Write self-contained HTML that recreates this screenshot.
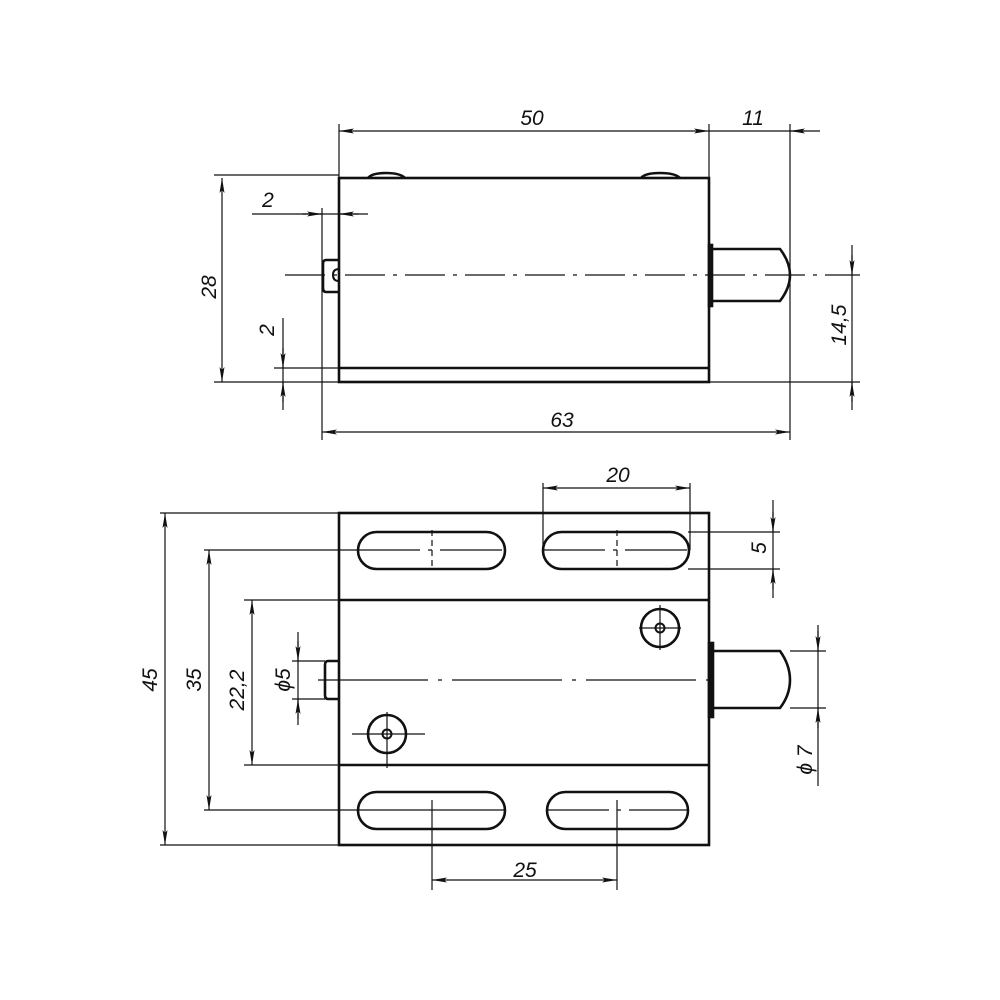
<!DOCTYPE html>
<html><head><meta charset="utf-8"><style>
html,body{margin:0;padding:0;background:#fff;}
svg{display:block}
text{font-family:"Liberation Sans",sans-serif;font-style:italic;font-size:21px;fill:#111;}
</style></head><body>
<svg width="1000" height="1000" viewBox="0 0 1000 1000" xmlns="http://www.w3.org/2000/svg">
<defs>
<marker id="a" markerWidth="16" markerHeight="6" refX="15" refY="3" orient="auto-start-reverse" markerUnits="userSpaceOnUse">
<path d="M0,0.5 L15,3 L0,5.5 L3,3 Z" fill="#111"/>
</marker>
</defs>
<g stroke="#111" fill="none" stroke-width="1.2">
<!-- ===== TOP VIEW ===== -->
<g stroke-width="2.6">
<rect x="339" y="178" width="370" height="204"/>
<line x1="339" y1="368" x2="709" y2="368"/>
<path d="M368,178 Q372,173 386,173 Q400,173 405,178"/>
<path d="M641,178 Q645,173 660,173 Q675,173 680,178"/>
<path d="M710,249 L780,249 Q790,262 790,275 Q790,288 780,301 L710,301"/>
<rect x="709" y="245" width="3" height="61" fill="#111"/>
<path d="M339,260 L326,260 Q323,260 323,264 L323,288 Q323,292 326,292 L339,292"/>
<path d="M339,269 Q333,269 333,275 Q333,281 339,281" stroke-width="2"/>
</g>
<line x1="285" y1="275" x2="860" y2="275" stroke-dasharray="40,8,4,8"/>
<!-- extension lines -->
<line x1="339" y1="124" x2="339" y2="178"/>
<line x1="709" y1="124" x2="709" y2="245"/>
<line x1="790" y1="124" x2="790" y2="440"/>
<line x1="322" y1="208" x2="322" y2="440"/>
<line x1="214" y1="175" x2="339" y2="175"/>
<line x1="214" y1="382" x2="339" y2="382"/>
<line x1="274" y1="368" x2="339" y2="368"/>
<line x1="709" y1="382" x2="860" y2="382"/>
<!-- dims -->
<line x1="339" y1="131" x2="709" y2="131" marker-start="url(#a)" marker-end="url(#a)"/>
<line x1="709" y1="131" x2="820" y2="131"/>
<line x1="805" y1="131" x2="790" y2="131" marker-end="url(#a)"/>
<line x1="222" y1="178" x2="222" y2="382" marker-start="url(#a)" marker-end="url(#a)"/>
<line x1="252" y1="214" x2="368" y2="214"/>
<line x1="302" y1="214" x2="322" y2="214" marker-end="url(#a)"/>
<line x1="359" y1="214" x2="339" y2="214" marker-end="url(#a)"/>
<line x1="283" y1="318" x2="283" y2="410"/>
<line x1="283" y1="348" x2="283" y2="368" marker-end="url(#a)"/>
<line x1="283" y1="402" x2="283" y2="382" marker-end="url(#a)"/>
<line x1="852" y1="245" x2="852" y2="410"/>
<line x1="852" y1="255" x2="852" y2="275" marker-end="url(#a)"/>
<line x1="852" y1="402" x2="852" y2="382" marker-end="url(#a)"/>
<line x1="322" y1="432" x2="790" y2="432" marker-start="url(#a)" marker-end="url(#a)"/>

<!-- ===== BOTTOM VIEW ===== -->
<g stroke-width="2.6">
<rect x="339" y="513" width="370" height="332"/>
<line x1="339" y1="600" x2="709" y2="600"/>
<line x1="339" y1="765" x2="709" y2="765"/>
<rect x="358" y="532" width="147" height="37" rx="18.5"/>
<rect x="543" y="532" width="146" height="37" rx="18.5"/>
<rect x="358" y="792" width="147" height="37" rx="18.5"/>
<rect x="547" y="792" width="141" height="37" rx="18.5"/>
<circle cx="660" cy="628" r="19"/>
<circle cx="660" cy="628" r="4.5" stroke-width="2"/>
<circle cx="387" cy="734" r="19"/>
<circle cx="387" cy="734" r="4.5" stroke-width="2"/>
<path d="M710,651 L780,651 Q790,665 790,680 Q790,695 780,708 L710,708"/>
<rect x="709" y="643" width="4" height="74" fill="#111"/>
<path d="M339,661 L328,661 Q325,661 325,665 L325,695 Q325,699 328,699 L339,699"/>
</g>
<!-- slot centerlines -->
<line x1="358" y1="550" x2="505" y2="550" stroke-dasharray="62,8,4,8"/>
<line x1="543" y1="550" x2="689" y2="550" stroke-dasharray="62,8,4,8"/>
<line x1="204" y1="550" x2="358" y2="550"/>
<line x1="204" y1="810" x2="505" y2="810"/>
<line x1="547" y1="810" x2="688" y2="810" stroke-dasharray="62,8,4,8"/>
<line x1="432" y1="530" x2="432" y2="570" stroke-dasharray="6,4"/>
<line x1="617" y1="530" x2="617" y2="570" stroke-dasharray="6,4"/>
<line x1="432" y1="800" x2="432" y2="890"/>
<line x1="617" y1="800" x2="617" y2="890"/>
<line x1="639" y1="628" x2="681" y2="628"/><line x1="660" y1="605" x2="660" y2="650"/>
<line x1="352" y1="734" x2="425" y2="734"/><line x1="387" y1="712" x2="387" y2="768"/>
<line x1="318" y1="680" x2="708" y2="680" stroke-dasharray="110,10,4,10"/>
<!-- ext lines -->
<line x1="543" y1="483" x2="543" y2="550"/>
<line x1="690" y1="483" x2="690" y2="550"/>
<line x1="160" y1="513" x2="339" y2="513"/>
<line x1="160" y1="845" x2="339" y2="845"/>
<line x1="244" y1="600" x2="339" y2="600"/>
<line x1="244" y1="765" x2="339" y2="765"/>
<line x1="292" y1="661" x2="325" y2="661"/>
<line x1="292" y1="699" x2="325" y2="699"/>
<line x1="688" y1="532" x2="780" y2="532"/>
<line x1="688" y1="569" x2="780" y2="569"/>
<line x1="790" y1="651" x2="826" y2="651"/>
<line x1="790" y1="708" x2="826" y2="708"/>
<!-- dims -->
<line x1="543" y1="488" x2="690" y2="488" marker-start="url(#a)" marker-end="url(#a)"/>
<line x1="773" y1="500" x2="773" y2="598"/>
<line x1="773" y1="512" x2="773" y2="532" marker-end="url(#a)"/>
<line x1="773" y1="589" x2="773" y2="569" marker-end="url(#a)"/>
<line x1="165" y1="513" x2="165" y2="845" marker-start="url(#a)" marker-end="url(#a)"/>
<line x1="209" y1="550" x2="209" y2="810" marker-start="url(#a)" marker-end="url(#a)"/>
<line x1="252" y1="600" x2="252" y2="765" marker-start="url(#a)" marker-end="url(#a)"/>
<line x1="298" y1="632" x2="298" y2="725"/>
<line x1="298" y1="641" x2="298" y2="661" marker-end="url(#a)"/>
<line x1="298" y1="719" x2="298" y2="699" marker-end="url(#a)"/>
<line x1="818" y1="625" x2="818" y2="786"/>
<line x1="818" y1="631" x2="818" y2="651" marker-end="url(#a)"/>
<line x1="818" y1="728" x2="818" y2="708" marker-end="url(#a)"/>
<line x1="432" y1="880" x2="617" y2="880" marker-start="url(#a)" marker-end="url(#a)"/>
</g>
<!-- texts -->
<text x="532" y="125" text-anchor="middle">50</text>
<text x="753" y="125" text-anchor="middle">11</text>
<text x="268" y="207" text-anchor="middle">2</text>
<text x="562" y="427" text-anchor="middle">63</text>
<text transform="translate(216,287) rotate(-90)" text-anchor="middle">28</text>
<text transform="translate(274,330) rotate(-90)" text-anchor="middle">2</text>
<text transform="translate(846,325) rotate(-90)" text-anchor="middle">14,5</text>
<text x="618" y="482" text-anchor="middle">20</text>
<text x="525" y="877" text-anchor="middle">25</text>
<text transform="translate(157,680) rotate(-90)" text-anchor="middle">45</text>
<text transform="translate(201,680) rotate(-90)" text-anchor="middle">35</text>
<text transform="translate(244,690) rotate(-90)" text-anchor="middle">22,2</text>
<text transform="translate(290,680) rotate(-90)" text-anchor="middle">ϕ5</text>
<text transform="translate(766,548) rotate(-90)" text-anchor="middle">5</text>
<text transform="translate(812,760) rotate(-90)" text-anchor="middle">ϕ 7</text>
</svg>
</body></html>
